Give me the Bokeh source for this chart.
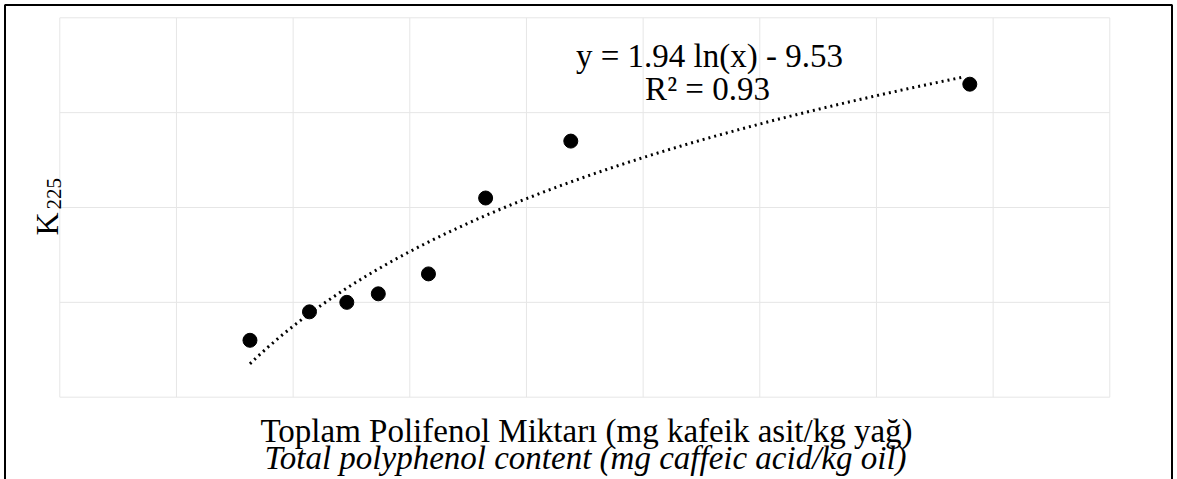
import numpy as np
from bokeh.plotting import figure
from bokeh.models import Label, BoxAnnotation, Range1d
from bokeh.embed import file_html
from bokeh.resources import INLINE

# ---- data ----
polyphenol = [163, 214, 246, 273, 316, 365, 438, 780]
k225 = [0.60, 0.90, 1.00, 1.09, 1.30, 2.10, 2.70, 3.30]
fit_a = 1.94
fit_b = -9.53
r2 = 0.93
x_ticks = [0, 100, 200, 300, 400, 500, 600, 700, 800, 900]
y_ticks = [0, 1, 2, 3, 4]

W, H = 1177, 479
# pixel placement of the data area (0..900, 0..4) on the canvas
PL, PR, PT, PB = 59.3, 1109.3, 17.3, 396.7
XMIN, XMAX, YMIN, YMAX = 0, 900, 0, 4


def dx(px):
    return XMIN + (px - PL) / (PR - PL) * (XMAX - XMIN)


def dy(py):
    return YMIN + (PB - py) / (PB - PT) * (YMAX - YMIN)


p = figure(width=W, height=H, output_backend="svg", toolbar_location=None,
           x_range=Range1d(dx(0), dx(W)), y_range=Range1d(dy(H), dy(0)),
           x_axis_location=None, y_axis_location=None,
           min_border_left=0, min_border_right=0, min_border_top=0, min_border_bottom=0)
p.xgrid.visible = False
p.ygrid.visible = False
p.outline_line_color = None
p.background_fill_color = "white"
p.border_fill_color = "white"

# grid of the data area, from the tick lists
grid_col = "#e6e6e6"
p.segment(x0=x_ticks, y0=[YMIN] * len(x_ticks), x1=x_ticks, y1=[YMAX] * len(x_ticks),
          line_color=grid_col, line_width=1)
p.segment(x0=[XMIN] * len(y_ticks), y0=y_ticks, x1=[XMAX] * len(y_ticks), y1=y_ticks,
          line_color=grid_col, line_width=1)

# trend line from the shown equation
xs = np.linspace(min(polyphenol), max(polyphenol) - 4, 200)
ys = fit_a * np.log(xs) + fit_b
p.line(xs, ys, line_color="black", line_width=3, line_dash="2 4")

p.scatter(polyphenol, k225, size=14, color="black")

serif = "Liberation Serif"


def lab(text, px, py, size, align="center", baseline="middle", style="normal", angle=0):
    p.add_layout(Label(x=dx(px), y=dy(py), text=text, text_font=serif,
                       text_font_size=f"{size}px", text_align=align,
                       text_baseline=baseline, text_font_style=style,
                       text_color="black", angle=angle))


lab(f"y = {fit_a} ln(x) - {abs(fit_b)}", 709, 55, 33)
lab(f"R² = {r2}", 707, 88, 33)

lab("Toplam Polifenol Miktarı (mg kafeik asit/kg yağ)", 586, 430, 33, baseline="alphabetic")
lab("Total polyphenol content (mg caffeic acid/kg oil)", 585, 457, 33,
    baseline="alphabetic", style="italic")

lab("K", 46, 235, 32, align="left", baseline="alphabetic", angle=np.pi / 2)
lab("225", 53, 209, 21, align="left", baseline="alphabetic", angle=np.pi / 2)

# outer frame
p.add_layout(BoxAnnotation(left=dx(4.5), right=dx(1171.5), top=dy(4.5), bottom=dy(495),
                           fill_alpha=0, line_color="black", line_alpha=1, line_width=2))

open("out.html", "w").write(file_html(p, INLINE))
